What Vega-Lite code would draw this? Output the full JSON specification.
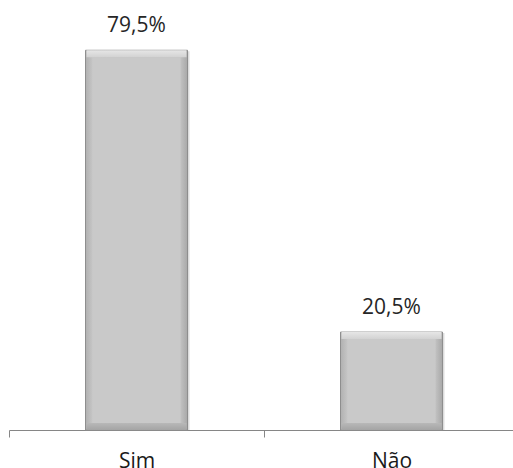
{
  "$schema": "https://vega.github.io/schema/vega-lite/v6.json",
  "width": 510,
  "height": 406,
  "autosize": {"type": "none"},
  "padding": {"left": 9, "top": 24, "right": 0, "bottom": 38},
  "background": "white",
  "config": {
    "view": {"stroke": null},
    "locale": {
      "number": {"decimal": ",", "thousands": ".", "grouping": [3], "currency": ["R$", ""]}
    },
    "font": "Open Sans"
  },
  "data": {
    "values": [
      {"resposta": "Sim", "pct": 0.795},
      {"resposta": "Não", "pct": 0.205}
    ]
  },
  "encoding": {
    "x": {
      "field": "resposta",
      "type": "nominal",
      "sort": null,
      "scale": {"paddingInner": 0, "paddingOuter": 0},
      "axis": {
        "title": null,
        "labelAngle": 0,
        "labelFont": "Open Sans",
        "labelFontSize": 21,
        "labelColor": "#1a1a1a",
        "labelPadding": 13,
        "domainColor": "#868686",
        "tickColor": "#868686",
        "tickSize": 7,
        "tickBand": "extent",
        "grid": false
      }
    }
  },
  "layer": [
    {
      "mark": {"type": "bar", "width": 104, "fill": "#9a9a9a", "opacity": 0.35, "xOffset": 1, "yOffset": 1},
      "encoding": {
        "y": {"field": "pct", "type": "quantitative", "scale": {"domain": [0, 0.85], "nice": false}, "axis": null},
        "y2": {"datum": 0}
      }
    },
    {
      "mark": {
        "type": "bar",
        "width": 102,
        "stroke": "#8e8e8e",
        "strokeWidth": 1,
        "fill": {
          "x1": 0, "y1": 0, "x2": 1, "y2": 0,
          "gradient": "linear",
          "stops": [
            {"offset": 0, "color": "#b0b0b0"},
            {"offset": 0.07, "color": "#c6c6c6"},
            {"offset": 0.93, "color": "#c2c2c2"},
            {"offset": 1, "color": "#a8a8a8"}
          ]
        }
      },
      "encoding": {
        "y": {"field": "pct", "type": "quantitative"},
        "y2": {"datum": 0}
      }
    },
    {
      "mark": {
        "type": "bar",
        "width": 100,
        "y2Offset": 7,
        "fill": {
          "x1": 0, "y1": 0, "x2": 0, "y2": 1,
          "gradient": "linear",
          "stops": [
            {"offset": 0, "color": "#e6e6e6"},
            {"offset": 1, "color": "#d2d2d2"}
          ]
        }
      },
      "encoding": {
        "y": {"field": "pct", "type": "quantitative"},
        "y2": {"field": "pct"}
      }
    },
    {
      "mark": {
        "type": "bar",
        "width": 100,
        "yOffset": -7,
        "fill": {
          "x1": 0, "y1": 0, "x2": 0, "y2": 1,
          "gradient": "linear",
          "stops": [
            {"offset": 0, "color": "#b8b8b8"},
            {"offset": 1, "color": "#a4a4a4"}
          ]
        }
      },
      "encoding": {
        "y": {"datum": 0},
        "y2": {"datum": 0}
      }
    },
    {
      "mark": {"type": "bar", "width": 88, "yOffset": 7, "y2Offset": -7, "fill": "#c9c9c9"},
      "encoding": {
        "y": {"field": "pct", "type": "quantitative"},
        "y2": {"datum": 0}
      }
    },
    {
      "mark": {
        "type": "text",
        "baseline": "alphabetic",
        "dy": -18,
        "font": "Open Sans",
        "fontSize": 21,
        "color": "#262626"
      },
      "encoding": {
        "y": {"field": "pct", "type": "quantitative"},
        "text": {"field": "pct", "type": "quantitative", "format": ".1%"}
      }
    }
  ]
}
